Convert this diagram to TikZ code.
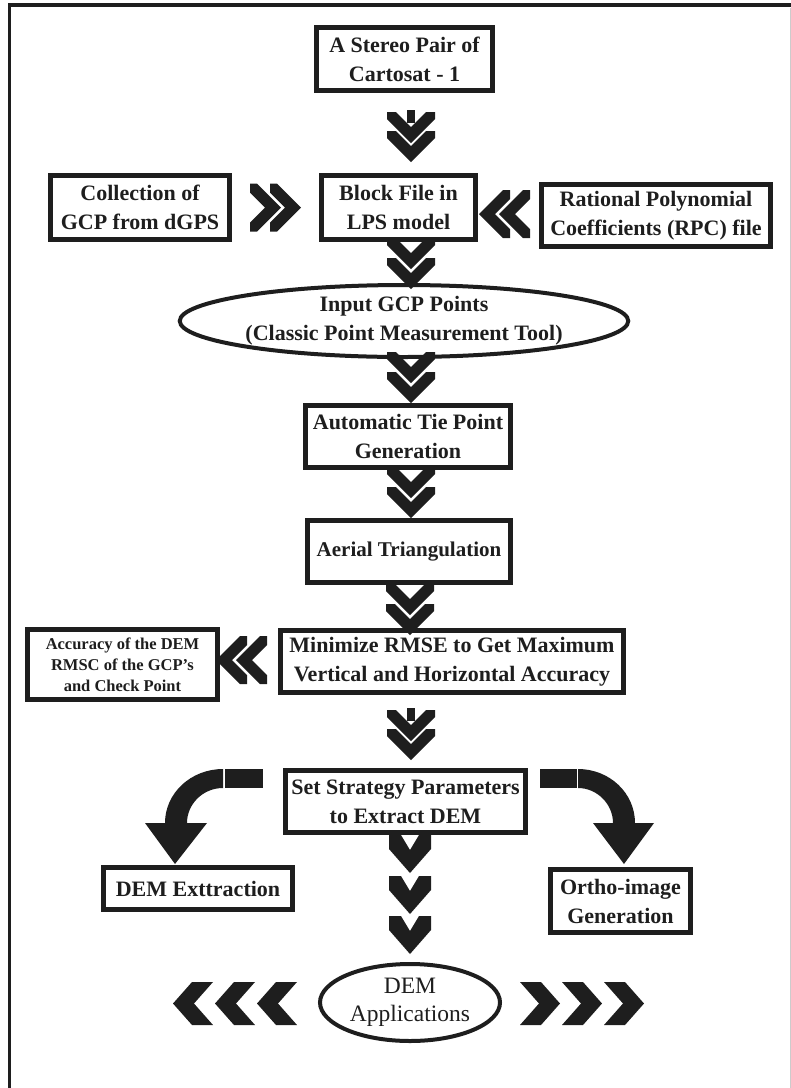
\documentclass[tikz,border=0pt]{standalone}
\usepackage{fontspec}
\setmainfont{Liberation Serif}
\usetikzlibrary{shapes.geometric}
\definecolor{ink}{HTML}{1E1E1E}
\tikzset{
  box/.style={draw=ink, line width=5pt, fill=white, align=center, inner sep=0pt,
    font=\bfseries\fontsize{22}{29}\selectfont, text=ink},
  oval/.style={draw=ink, ellipse, line width=4pt, fill=white, align=center, inner sep=0pt, text=ink},
  onev/.pic={\fill[ink] (-24,0) -- (-15,0) -- (0,15) -- (15,0) -- (24,0) -- (24,7) -- (0,31) -- (-24,7) -- cycle;},
  dblv/.pic={\pic at (0,0) {onev}; \pic at (0,20) {onev};},
  dblvshaft/.pic={\fill[ink] (-4,0) rectangle (4,13); \pic at (0,2) {onev}; \pic at (0,21) {onev};},
  oner/.pic={\fill[ink] (0,-24) -- (0,-15) -- (15,0) -- (0,15) -- (0,24) -- (7,24) -- (31,0) -- (7,-24) -- cycle;},
  dblr/.pic={\pic at (0,0) {oner}; \pic at (20,0) {oner};},
  onel/.pic={\fill[ink] (0,-24) -- (0,-15) -- (-15,0) -- (0,15) -- (0,24) -- (-7,24) -- (-31,0) -- (-7,-24) -- cycle;},
  dbll/.pic={\pic at (0,0) {onel}; \pic at (-20,0) {onel};},
  sdown/.pic={\fill[ink] (-21,0) -- (-9,0) -- (0,15) -- (9,0) -- (21,0) -- (21,14) -- (0,38) -- (-21,14) -- cycle;},
  sleft/.pic={\fill[ink] (0,0) -- (19,-21.5) -- (40,-21.5) -- (21,0) -- (40,21.5) -- (19,21.5) -- cycle;},
  sright/.pic={\fill[ink] (0,0) -- (-19,-21.5) -- (-40,-21.5) -- (-21,0) -- (-40,21.5) -- (-19,21.5) -- cycle;},
}
\begin{document}
\begin{tikzpicture}[x=1pt,y=-1pt]
\useasboundingbox (0,0) rectangle (791,1088);
% frame
\draw[ink, line width=3.5pt] (9.5,1088) -- (9.5,5) -- (791,5);
\draw[black!20, line width=1pt] (790,8) -- (790,1088);

% nodes
\node[box, minimum width=176pt, minimum height=63pt] (stereo) at (404.5,59) {A Stereo Pair of\\Cartosat - 1};
\node[box, minimum width=179pt, minimum height=64pt] (gcp) at (140,207.5) {Collection of\\GCP from dGPS};
\node[box, minimum width=154pt, minimum height=64pt] (block) at (398.5,207.5) {Block File in\\LPS model};
\node[box, minimum width=229pt, minimum height=62pt] (rpc) at (656,215.5) {Rational Polynomial\\Coefficients (RPC) file};
\node[oval, minimum width=394pt, minimum height=72pt, font=\bfseries\fontsize{22}{29}\selectfont] (input) at (404,321) {Input GCP Points\\(Classic Point Measurement Tool)};
\node[box, minimum width=205pt, minimum height=62pt] (tie) at (408,436.5) {Automatic Tie Point\\Generation};
\node[box, minimum width=203pt, minimum height=62pt, font=\bfseries\fontsize{21}{29}\selectfont] (aerial) at (409,551.5) {Aerial Triangulation};
\node[box, minimum width=343pt, minimum height=62pt] (rmse) at (452,661.5) {Minimize RMSE to Get Maximum\\Vertical and Horizontal Accuracy};
\node[box, minimum width=190pt, minimum height=70pt, font=\bfseries\fontsize{16.5}{21}\selectfont] (acc) at (122.5,664.5) {Accuracy of the DEM\\RMSC of the GCP's\\and Check Point};
\node[box, minimum width=240pt, minimum height=62pt] (strat) at (405.5,801.5) {Set Strategy Parameters\\to Extract DEM};
\node[box, minimum width=189pt, minimum height=42pt] (demx) at (198,888.5) {DEM Exttraction};
\node[box, minimum width=140pt, minimum height=63pt] (ortho) at (620.5,901) {Ortho-image\\Generation};
\node[oval, minimum width=180pt, minimum height=77pt, font=\fontsize{23.5}{28}\selectfont] (app) at (410,1002.5) {DEM\\Applications};

% vertical double chevrons
\pic at (411,110) {dblvshaft};
\pic at (411,238) {dblv};
\pic at (411,352) {dblv};
\pic at (411,467) {dblv};
\pic at (410,584) {dblv};
\pic at (411,708) {dblvshaft};

% side double chevrons
\pic at (250,207.5) {dblr};
\pic at (530,214) {dbll};
\pic at (267,660) {dbll};

% single chevrons below strategy
\pic at (410,835) {sdown};
\pic at (410,876) {sdown};
\pic at (410,916) {sdown};

% chevrons around DEM applications
\pic at (173,1003.5) {sleft};
\pic at (215,1003.5) {sleft};
\pic at (257,1003.5) {sleft};
\pic at (560,1003.5) {sright};
\pic at (602,1003.5) {sright};
\pic at (644,1003.5) {sright};

% curved arrows
\fill[ink] (224.5,769) rectangle (263,788);
\fill[ink] (223,769) .. controls (191,769) and (165,793) .. (165,823) -- (145,823) -- (175,864)
  -- (207,823) -- (187,823) .. controls (187,804) and (203,788) .. (223,788) -- cycle;
\fill[ink] (540,769) rectangle (576.5,788);
\fill[ink] (578,769) .. controls (609.5,769) and (635,793) .. (635,823) -- (654,823) -- (624,864)
  -- (593,823) -- (613,823) .. controls (613,804) and (597,788) .. (578,788) -- cycle;
\end{tikzpicture}
\end{document}
